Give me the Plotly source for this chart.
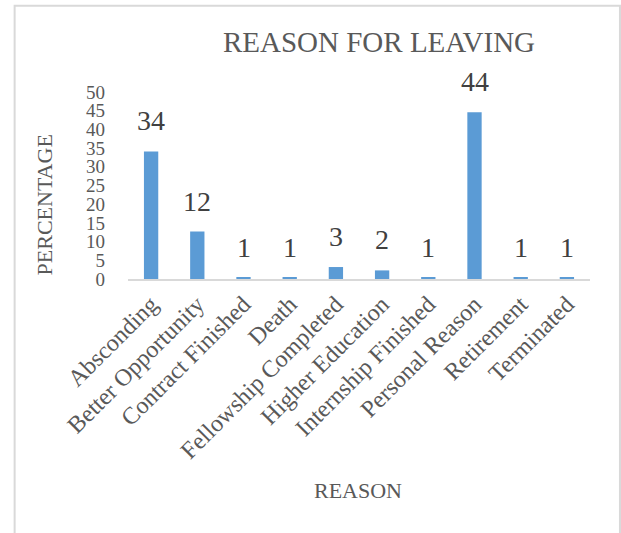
import plotly.graph_objects as go

categories = ["Absconding", "Better Opportunity", "Contract Finished", "Death",
              "Fellowship Completed", "Higher Education", "Internship Finished",
              "Personal Reason", "Retirement", "Terminated"]
values = [34.1, 12.7, 0.3, 0.3, 3.2, 2.3, 0.3, 44.6, 0.3, 0.3]
labels = ["34", "12", "1", "1", "3", "2", "1", "44", "1", "1"]
y_ticks = [0, 5, 10, 15, 20, 25, 30, 35, 40, 45, 50]

W, H = 621, 533
ML, MR, MT, MB = 127.5, 31, 92, 253.7
FONT = "Liberation Serif"
GRAY = "#595959"

fig = go.Figure()
fig.add_trace(go.Bar(
    x=categories, y=values,
    marker=dict(color="#5b9bd5", line=dict(width=0)),
    width=0.31,
))

annotations = []
for c, v, t in zip(categories, values, labels):
    annotations.append(dict(x=c, y=v, xref="x", yref="y", text=t, showarrow=False,
                            yanchor="bottom", yshift=13,
                            font=dict(family=FONT, size=28, color="#404040")))

pw = W - ML - MR
ph = H - MT - MB
def px2paper_x(px):
    return (px - ML) / pw
def px2paper_y(py):
    return (H - MB - py) / ph

annotations.append(dict(x=px2paper_x(44), y=px2paper_y(205), xref="paper", yref="paper",
                        text="PERCENTAGE", showarrow=False, textangle=-90,
                        xanchor="center", yanchor="middle",
                        font=dict(family=FONT, size=22, color=GRAY)))
annotations.append(dict(x=px2paper_x(358), y=px2paper_y(491), xref="paper", yref="paper",
                        text="REASON", showarrow=False,
                        xanchor="center", yanchor="middle",
                        font=dict(family=FONT, size=22, color=GRAY)))

fig.update_layout(
    width=W, height=H,
    margin=dict(l=ML, r=MR, t=MT, b=MB, pad=0),
    paper_bgcolor="white", plot_bgcolor="white",
    showlegend=False,
    title=dict(text="REASON FOR LEAVING", x=379 / W, xanchor="center",
               y=1 - 42 / H, yanchor="middle",
               font=dict(family=FONT, size=29, color=GRAY)),
    xaxis=dict(tickangle=-45, showgrid=False, showline=True, linecolor="#d9d9d9",
               linewidth=1.5, ticks="", tickfont=dict(family=FONT, size=24, color=GRAY),
               automargin=False),
    yaxis=dict(range=[0, 50], tickvals=y_ticks, ticktext=[str(v) for v in y_ticks],
               showgrid=False, zeroline=False, showline=False, ticks="",
               ticklabelstandoff=22,
               tickfont=dict(family=FONT, size=19, color=GRAY), automargin=False),
    annotations=annotations,
    shapes=[dict(type="rect", xref="paper", yref="paper",
                 x0=px2paper_x(14), x1=px2paper_x(620), y0=px2paper_y(540), y1=px2paper_y(5.5),
                 line=dict(color="#d9d9d9", width=2), fillcolor="rgba(0,0,0,0)", layer="below")],
)

fig.write_html("out.html")
